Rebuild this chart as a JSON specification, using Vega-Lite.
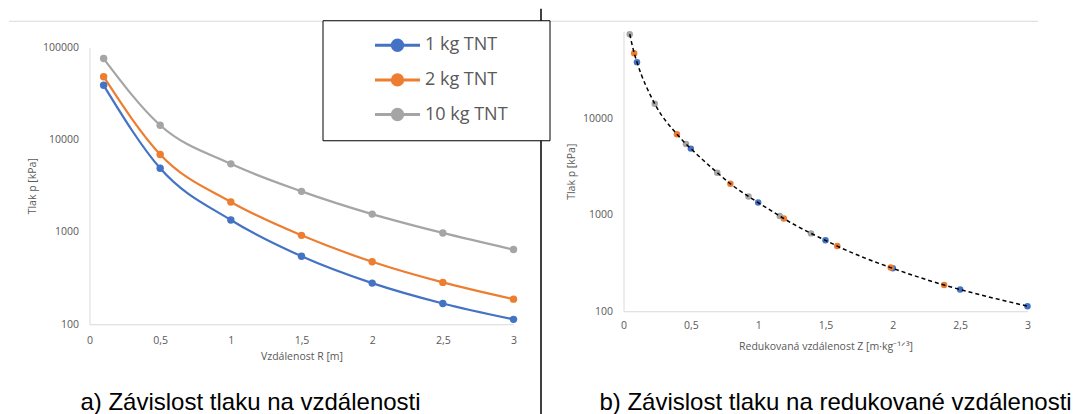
{
  "$schema": "https://vega.github.io/schema/vega-lite/v6.json",
  "background": "white",
  "padding": {"left": 26.5, "top": 19.25, "right": 0, "bottom": 0},
  "bounds": "flush",
  "spacing": 54.5,
  "config": {
    "view": {"stroke": null},
    "axis": {
      "domainColor": "#d9d9d9",
      "domainWidth": 1,
      "ticks": false,
      "tickSize": 0,
      "grid": false,
      "labelColor": "#595959",
      "labelFont": "Open Sans",
      "labelFontSize": 10.5,
      "titleColor": "#595959",
      "titleFont": "Open Sans",
      "titleFontSize": 10.5,
      "titleFontWeight": "normal",
      "labelFlush": false,
      "labelOverlap": false
    }
  },
  "datasets": {
    "tnt": [
      {"series": "1 kg TNT", "R": 0.1, "Z": 0.1, "p": 38700},
      {"series": "1 kg TNT", "R": 0.5, "Z": 0.5, "p": 4890},
      {"series": "1 kg TNT", "R": 1, "Z": 1, "p": 1346},
      {"series": "1 kg TNT", "R": 1.5, "Z": 1.5, "p": 545},
      {"series": "1 kg TNT", "R": 2, "Z": 2, "p": 279},
      {"series": "1 kg TNT", "R": 2.5, "Z": 2.5, "p": 168},
      {"series": "1 kg TNT", "R": 3, "Z": 3, "p": 113},
      {"series": "2 kg TNT", "R": 0.1, "Z": 0.0794, "p": 48000},
      {"series": "2 kg TNT", "R": 0.5, "Z": 0.3969, "p": 6900},
      {"series": "2 kg TNT", "R": 1, "Z": 0.7937, "p": 2110},
      {"series": "2 kg TNT", "R": 1.5, "Z": 1.1906, "p": 918},
      {"series": "2 kg TNT", "R": 2, "Z": 1.5874, "p": 475},
      {"series": "2 kg TNT", "R": 2.5, "Z": 1.9843, "p": 284},
      {"series": "2 kg TNT", "R": 3, "Z": 2.3811, "p": 187},
      {"series": "10 kg TNT", "R": 0.1, "Z": 0.0464, "p": 75500},
      {"series": "10 kg TNT", "R": 0.5, "Z": 0.2321, "p": 14300},
      {"series": "10 kg TNT", "R": 1, "Z": 0.4642, "p": 5460},
      {"series": "10 kg TNT", "R": 1.5, "Z": 0.6962, "p": 2750},
      {"series": "10 kg TNT", "R": 2, "Z": 0.9283, "p": 1560},
      {"series": "10 kg TNT", "R": 2.5, "Z": 1.1604, "p": 975},
      {"series": "10 kg TNT", "R": 3, "Z": 1.3925, "p": 644}
    ]
  },
  "hconcat": [
    {
      "width": 424,
      "height": 293,
      "data": {"name": "tnt"},
      "title": {
        "text": "a) Závislost tlaku na vzdálenosti",
        "orient": "bottom",
        "anchor": "middle",
        "frame": "group",
        "font": "Liberation Sans",
        "fontSize": 24,
        "fontWeight": "normal",
        "color": "#000000",
        "dx": -51,
        "offset": 29
      },
      "encoding": {
        "x": {
          "field": "R",
          "type": "quantitative",
          "scale": {"domain": [0, 3], "nice": false},
          "axis": {
            "values": [0, 0.5, 1, 1.5, 2, 2.5, 3],
            "labelExpr": "replace(toString(datum.value), '.', ',')",
            "labelPadding": 10.75,
            "titlePadding": 5.5,
            "title": "Vzdálenost R [m]"
          }
        },
        "y": {
          "field": "p",
          "type": "quantitative",
          "scale": {"type": "log", "domain": [100, 100000], "range": [293, 16], "nice": false},
          "axis": {
            "values": [100, 1000, 10000, 100000],
            "format": "d",
            "labelPadding": 11,
            "titlePadding": 5,
            "title": "Tlak p [kPa]"
          }
        },
        "color": {
          "field": "series",
          "type": "nominal",
          "scale": {"domain": ["1 kg TNT", "2 kg TNT", "10 kg TNT"], "range": ["#4472C4", "#ED7D31", "#A5A5A5"]},
          "legend": {
            "orient": "none",
            "legendX": 233,
            "legendY": -11,
            "title": null,
            "strokeColor": "#000000",
            "fillColor": "#ffffff",
            "padding": 15,
            "clipHeight": 20,
            "symbolType": "M-4,0H4M0.92,0A0.92,0.92,0,1,1,-0.92,0A0.92,0.92,0,1,1,0.92,0Z",
            "symbolSize": 126.6,
            "symbolStrokeWidth": 3,
            "symbolOffset": 51,
            "labelOffset": 18.5,
            "labelFont": "Open Sans",
            "labelFontSize": 18,
            "labelColor": "#595959",
            "rowPadding": 14.65,
            "labelExpr": "datum.label + '\u2800\u2800'",
            "encode": {
              "symbols": {
                "update": {
                  "fill": {"scale": "color", "field": "value"},
                  "stroke": {"scale": "color", "field": "value"},
                  "opacity": {"value": 1}
                }
              }
            }
          }
        }
      },
      "layer": [
        {"mark": {"type": "line", "interpolate": "monotone", "strokeWidth": 2.2}},
        {"mark": {"type": "circle", "size": 55, "opacity": 1}}
      ]
    },
    {
      "width": 1,
      "height": 293,
      "data": {"name": "tnt"},
      "mark": {"type": "point", "opacity": 0},
      "encoding": {
        "x": {
          "field": "R",
          "type": "quantitative",
          "scale": {"domain": [0, 3], "nice": false, "range": [-559.5, 469.5]},
          "axis": {"orient": "top", "offset": 10.5, "domainColor": "#d9d9d9", "labels": false, "ticks": false, "title": null, "grid": false}
        },
        "y": {
          "field": "p",
          "type": "quantitative",
          "scale": {"type": "log", "domain": [100, 100000], "nice": false, "range": [383, -23]},
          "axis": {"orient": "left", "offset": 27.5, "domainColor": "#000000", "domainWidth": 1.5, "labels": false, "ticks": false, "title": null, "grid": false}
        }
      }
    },
    {
      "width": 404,
      "height": 280,
      "data": {"name": "tnt"},
      "title": {
        "text": "b) Závislost tlaku na redukované vzdálenosti",
        "orient": "bottom",
        "anchor": "middle",
        "frame": "group",
        "font": "Liberation Sans",
        "fontSize": 24,
        "fontWeight": "normal",
        "color": "#000000",
        "dx": 10,
        "offset": 39
      },
      "encoding": {
        "x": {
          "field": "Z",
          "type": "quantitative",
          "scale": {"domain": [0, 3], "nice": false},
          "axis": {
            "values": [0, 0.5, 1, 1.5, 2, 2.5, 3],
            "labelExpr": "replace(toString(datum.value), '.', ',')",
            "labelPadding": 9.25,
            "titlePadding": 10.5,
            "title": "Redukovaná vzdálenost Z [m·kg⁻¹ᐟ³]"
          }
        },
        "y": {
          "field": "p",
          "type": "quantitative",
          "scale": {"type": "log", "domain": [100, 81000], "nice": false},
          "axis": {
            "values": [100, 1000, 10000],
            "format": "d",
            "labelPadding": 11,
            "titlePadding": 5.5,
            "title": "Tlak p [kPa]"
          }
        }
      },
      "layer": [
        {
          "mark": {"type": "circle", "size": 42, "opacity": 1},
          "encoding": {
            "color": {
              "field": "series",
              "type": "nominal",
              "scale": {"domain": ["1 kg TNT", "2 kg TNT", "10 kg TNT"], "range": ["#4472C4", "#ED7D31", "#A5A5A5"]},
              "legend": null
            }
          }
        },
        {
          "mark": {"type": "line", "color": "#000000", "strokeDash": [4, 3], "strokeWidth": 1.5, "interpolate": "monotone"}
        }
      ]
    }
  ]
}
